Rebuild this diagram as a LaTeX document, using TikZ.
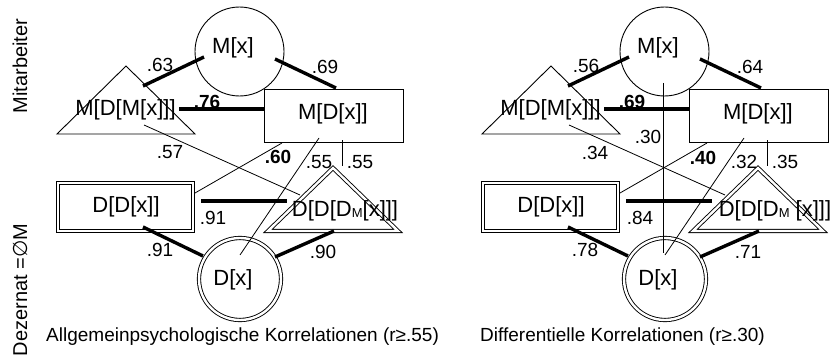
\documentclass[tikz,border=0pt]{standalone}
\usepackage{fontspec}
\setmainfont{Liberation Sans}
\newfontfamily\djv{DejaVu Sans}
\tikzset{
  conn/.style={line width=0.8pt},
  tconn/.style={line width=3.4pt},
  lab/.style={font=\fontsize{19}{19}\selectfont, inner sep=0pt},
  blab/.style={font=\fontsize{19}{19}\selectfont\bfseries, inner sep=0pt},
  ntext/.style={font=\fontsize{22}{22}\selectfont, inner sep=0pt},
  shp/.style={draw, line width=0.9pt},
  dbl/.style={draw, line width=0.9pt, double=white, double distance=2.4pt},
  captext/.style={font=\fontsize{19}{19}\selectfont, inner sep=0pt, anchor=west},
  side/.style={font=\fontsize{20}{20}\selectfont, inner sep=0pt, rotate=90},
}
\newcommand\panelshapes{%
  \node[circle, shp, minimum size=89pt, inner sep=0pt] (Mx) at (239.5,51.5) {};
  \node[rectangle, shp, minimum width=139pt, minimum height=53pt, inner sep=0pt] (MDx) at (333.5,115.5) {};
  \draw[shp] (126,66) -- (195,134) -- (57,134) -- cycle;
  \node[rectangle, dbl, minimum width=134.8pt, minimum height=47.8pt, inner sep=0pt] (DDx) at (125.5,207) {};
  \draw[dbl, line join=miter] (333,168) -- (398,231) -- (268,231) -- cycle;
  \node[circle, dbl, minimum size=82pt, inner sep=0pt] (Dx) at (240,279) {};
  \node[ntext] (Mxt) at (233,48) {M[x]};
  \node[ntext] (MDMxt) at (125.5,110) {M[D[M[x]]]};
  \node[ntext] (MDxt) at (333,114) {M[D[x]]};
  \node[ntext] (DDxt) at (126,207) {D[D[x]]};
  \node[ntext] (Dxt) at (233,280) {D[x]};
  % connector end points
  \coordinate (a1) at (143,86);  \coordinate (a2) at (204,57);
  \coordinate (b1) at (275,59);  \coordinate (b2) at (336,88);
  \coordinate (c1) at (179,109); \coordinate (c2) at (264,109);
  \coordinate (d1) at (144,125); \coordinate (d2) at (300,195);
  \coordinate (e1) at (282,143); \coordinate (e2) at (195,193);
  \coordinate (f1) at (319,138); \coordinate (f2) at (240,255);
  \coordinate (g1) at (342,140); \coordinate (g2) at (342,166);
  \coordinate (h1) at (201,201); \coordinate (h2) at (287,201);
  \coordinate (i1) at (143,227); \coordinate (i2) at (203,256);
  \coordinate (j1) at (334,231); \coordinate (j2) at (275,257);
  \draw[tconn] (a1) -- (a2);
  \draw[tconn] (b1) -- (b2);
  \draw[tconn] (c1) -- (c2);
  \draw[conn] (d1) -- (d2);
  \draw[conn] (e1) -- (e2);
  \draw[conn] (f1) -- (f2);
  \draw[conn] (g1) -- (g2);
  \draw[tconn] (h1) -- (h2);
  \draw[tconn] (i1) -- (i2);
  \draw[tconn] (j1) -- (j2);
}
\begin{document}
\begin{tikzpicture}[x=1pt, y=-1pt]
  \useasboundingbox (0,0) rectangle (831,361);
  \fill[white] (0,0) rectangle (831,361);
  \node[side] (mit) at (20,66) {Mitarbeiter};
  \node[side] (dez) at (20,290) {Dezernat ={\djv ∅}M};
  % left panel
  \begin{scope}[name prefix=L-]
    \panelshapes
    \node[ntext] (DDDMxt) at (345,211) {D[D[D\raisebox{-1pt}{\fontsize{13}{13}\selectfont M}[x]]]};
    \node[lab] (l1) at (160,65) {.63};
    \node[lab] (l2) at (325,67) {.69};
    \node[blab] (l3) at (207,102) {.76};
    \node[lab] (l4) at (170,152) {.57};
    \node[blab] (l5) at (278,157) {.60};
    \node[lab] (l6) at (319,162) {.55};
    \node[lab] (l7) at (360,162) {.55};
    \node[lab] (l8) at (213,218) {.91};
    \node[lab] (l9) at (160,250) {.91};
    \node[lab] (l10) at (323,252) {.90};
    \node[captext] (capL) at (46,337) {Allgemeinpsychologische Korrelationen (r≥.55)};
  \end{scope}
  % right panel
  \begin{scope}[xshift=425pt, name prefix=R-]
    \panelshapes
    \node[ntext] (DDDMxt) at (350,211) {D[D[D\raisebox{-1pt}{\fontsize{13}{13}\selectfont M} [x]]]};
    \coordinate (k1) at (238,83); \coordinate (k2) at (238,253);
    \draw[conn] (k1) -- (k2);
    \node[lab] (l1) at (161,66) {.56};
    \node[lab] (l2) at (325,67) {.64};
    \node[blab] (l3) at (207,102) {.69};
    \node[lab] (l4) at (170,153) {.34};
    \node[blab] (l5) at (278,158) {.40};
    \node[lab] (l6) at (319,162) {.32};
    \node[lab] (l7) at (360,162) {.35};
    \node[lab] (l8) at (215,218) {.84};
    \node[lab] (l9) at (160,250) {.78};
    \node[lab] (l10) at (323,252) {.71};
    \node[lab] (l11) at (223,137) {.30};
    \node[captext] (capR) at (55,337) {Differentielle Korrelationen (r≥.30)};
  \end{scope}
\end{tikzpicture}
\end{document}
